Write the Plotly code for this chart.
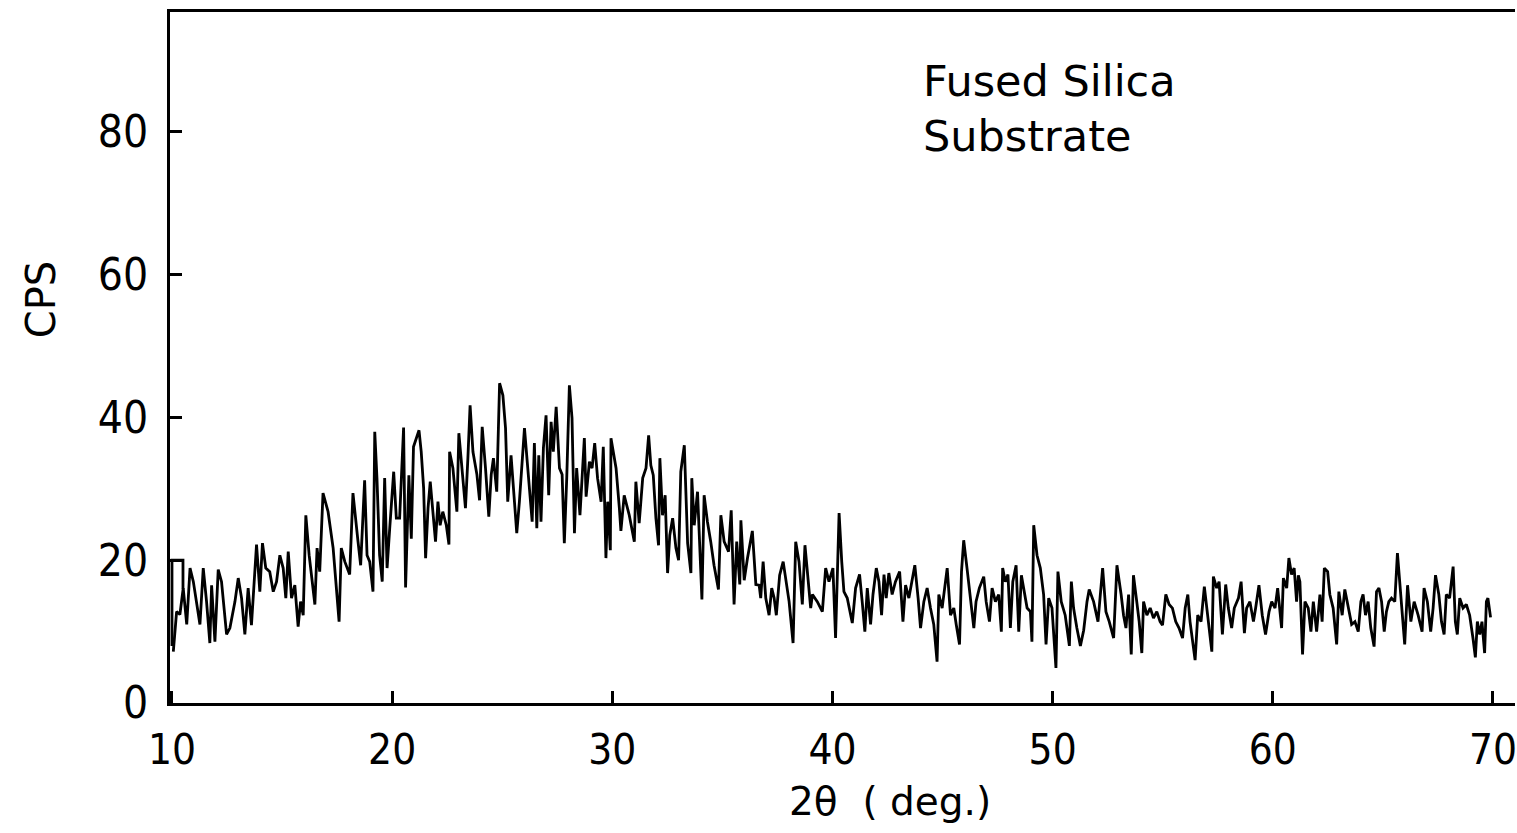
import plotly.graph_objects as go

# 2-theta (deg.) and counts per second
two_theta = [
    10.06, 10.21, 10.36, 10.51, 10.67, 10.82, 10.97, 11.12, 11.27, 11.42, 11.57, 11.72, 11.80, 11.95, 12.10, 12.25,
    12.48, 12.63, 12.86, 13.01, 13.16, 13.31, 13.46, 13.61, 13.84, 13.99, 14.11, 14.26, 14.44, 14.60, 14.75,
    14.90, 15.05, 15.17, 15.28, 15.43, 15.58, 15.73, 15.84, 15.96, 16.08, 16.23, 16.38, 16.49, 16.59, 16.71, 16.86,
    17.09, 17.32, 17.59, 17.69, 17.85, 18.07, 18.22, 18.45, 18.57, 18.75, 18.86, 18.98, 19.13, 19.21, 19.31, 19.43,
    19.55, 19.66, 19.77, 19.89, 20.07, 20.19,
    20.34, 20.52, 20.61, 20.76, 20.87, 20.97, 21.10, 21.22, 21.32, 21.43, 21.52, 21.63, 21.73, 21.85, 21.97, 22.08,
    22.18, 22.30, 22.46, 22.58, 22.61, 22.76, 22.94, 23.03, 23.18, 23.33, 23.44, 23.54, 23.67, 23.85, 23.97, 24.09,
    24.24, 24.39, 24.50, 24.60, 24.75, 24.88, 25.03, 25.15, 25.25, 25.40, 25.66,
    25.78, 26.01, 26.16, 26.36, 26.46, 26.57, 26.66, 26.76, 26.87, 26.99, 27.11, 27.22, 27.32, 27.45, 27.60, 27.72,
    27.82, 27.93, 28.05, 28.17, 28.28, 28.38, 28.53, 28.73, 28.81, 28.96, 29.08, 29.20, 29.33, 29.49, 29.59, 29.71,
    29.79, 29.91, 29.94, 30.17, 30.32, 30.39, 30.54, 30.77, 31.00, 31.07,
    31.22, 31.38, 31.53, 31.65, 31.75, 31.86, 31.98, 32.10, 32.16, 32.28, 32.40, 32.51, 32.61, 32.74, 32.89, 33.01,
    33.11, 33.27, 33.42, 33.57, 33.61, 33.72, 33.87, 34.07, 34.17, 34.32, 34.47, 34.62, 34.82, 34.93, 35.08, 35.28,
    35.40, 35.53, 35.65, 35.79, 35.84, 35.99, 36.14, 36.36, 36.52,
    36.67, 36.74, 36.85, 36.97, 37.12, 37.24, 37.35, 37.45, 37.60, 37.76, 37.88, 38.03, 38.21, 38.33, 38.48, 38.63,
    38.75, 38.90, 39.01, 39.09, 39.31, 39.54, 39.69, 39.84, 40.02, 40.14, 40.23, 40.30, 40.42, 40.52, 40.67, 40.90,
    41.05, 41.23, 41.35, 41.47, 41.58, 41.73, 41.84, 41.99,
    42.11, 42.23, 42.34, 42.44, 42.56, 42.71, 42.86, 43.05, 43.20, 43.32, 43.47, 43.62, 43.74, 43.89, 44.00, 44.15,
    44.30, 44.45, 44.60, 44.75, 44.83, 44.98, 45.13, 45.21, 45.36, 45.51, 45.62, 45.77, 45.86, 45.96, 46.11, 46.27,
    46.42, 46.52, 46.67, 46.87, 46.98, 47.13, 47.25, 47.40,
    47.55, 47.67, 47.73, 47.85, 47.97, 48.08, 48.19, 48.34, 48.46, 48.58, 48.69, 48.84, 48.99, 49.06, 49.14, 49.29,
    49.44, 49.59, 49.70, 49.82, 49.97, 50.15, 50.24, 50.39, 50.57, 50.76, 50.85, 50.95, 51.10, 51.26, 51.41, 51.56,
    51.66, 51.86, 52.06, 52.27, 52.42, 52.57, 52.77, 52.92,
    53.11, 53.22, 53.33, 53.45, 53.57, 53.67, 53.82, 53.93, 54.05, 54.13, 54.28, 54.43, 54.58, 54.73, 54.88, 54.99,
    55.14, 55.29, 55.44, 55.59, 55.74, 55.90, 56.02, 56.14, 56.24, 56.35, 56.47, 56.59, 56.74, 56.89, 57.04, 57.23,
    57.30, 57.45, 57.56, 57.71, 57.86, 57.98, 58.13, 58.25,
    58.44, 58.56, 58.71, 58.81, 58.96, 59.12, 59.22, 59.37, 59.52, 59.67, 59.83, 59.95, 60.10, 60.22, 60.40, 60.48,
    60.63, 60.73, 60.85, 60.97, 61.08, 61.16, 61.23, 61.35, 61.46, 61.61, 61.73, 61.84, 61.99, 62.14, 62.24, 62.34,
    62.49, 62.59, 62.74, 62.90, 63.00, 63.15, 63.27, 63.42, 63.58, 63.73,
    63.88, 64.00, 64.10, 64.21, 64.33, 64.45, 64.60, 64.71, 64.82, 64.94, 65.06, 65.16, 65.27, 65.39, 65.54, 65.66,
    65.77, 65.87, 65.99, 66.12, 66.27, 66.42, 66.60, 66.78, 66.87, 67.02, 67.17, 67.28, 67.39, 67.54, 67.66, 67.78,
    67.88, 68.03, 68.19, 68.29, 68.38, 68.49, 68.64, 68.79, 68.94, 69.09, 69.20, 69.29, 69.40, 69.50, 69.62, 69.70,
    69.77, 69.89,
]

cps = [
    7.2, 12.8, 12.4, 16.1, 11.0, 18.9, 17.0, 14.2, 11.0, 18.9, 14.2, 8.4, 16.5, 8.6, 18.7, 17.0,
    9.6, 10.5, 14.2, 17.5, 14.7, 9.6, 16.1, 10.9, 22.2, 15.6, 22.4, 18.9, 18.4, 15.6, 17.0,
    20.7, 18.9, 14.7, 21.2, 14.7, 16.5, 10.7, 14.2, 12.3, 26.3, 20.7, 17.0, 13.8, 21.7, 18.4, 29.4,
    26.8, 21.7, 11.4, 21.7, 19.8, 18.0, 29.4, 22.6, 19.3, 31.2, 20.7, 19.8, 15.6, 38.0, 31.5, 20.7,
    17.0, 31.5, 18.9, 24.5, 32.4, 25.9,
    25.9, 38.6, 16.2, 31.9, 23.0, 35.9, 37.1, 38.2, 35.2, 30.1, 20.3, 27.3, 31.0, 27.3, 22.6, 28.2,
    24.9, 26.8, 24.9, 22.2, 35.2, 32.9, 26.8, 37.8, 32.9, 27.3, 34.3, 41.7, 35.2, 32.0, 28.4, 38.7,
    32.9, 26.1, 32.0, 34.3, 29.6, 44.8, 43.1, 38.5, 28.2, 34.7, 23.8,
    28.2, 38.5, 32.9, 25.4, 36.4, 24.5, 34.7, 25.4, 35.7, 40.3, 29.1, 39.4, 35.2, 41.5, 32.9, 32.0,
    22.4, 31.5, 44.5, 39.9, 23.8, 32.9, 26.3, 37.1, 28.9, 33.8, 32.9, 36.4, 31.5, 28.2, 35.9, 20.3,
    28.2, 21.4, 37.1, 32.9, 27.3, 24.1, 29.1, 26.3, 22.6, 31.0,
    25.2, 31.5, 32.9, 37.5, 33.3, 31.9, 25.9, 22.1, 34.3, 26.3, 29.1, 18.2, 23.5, 25.9, 21.7, 20.0,
    32.4, 36.1, 22.4, 18.2, 31.5, 24.9, 29.6, 14.5, 29.1, 25.4, 22.6, 19.3, 15.9, 26.3, 22.6, 21.2,
    27.0, 13.8, 22.6, 16.6, 25.6, 17.2, 20.3, 24.1, 16.6,
    16.5, 14.7, 19.8, 14.7, 12.3, 16.1, 14.7, 12.3, 17.9, 19.8, 17.0, 14.2, 8.4, 22.6, 19.8, 13.8,
    22.1, 17.0, 13.3, 15.2, 14.2, 12.8, 18.9, 17.0, 18.9, 9.1, 20.7, 26.6, 19.8, 15.6, 14.7, 11.2,
    16.1, 18.0, 14.2, 10.0, 16.1, 11.0, 15.2, 18.9,
    17.0, 12.3, 18.0, 14.7, 18.2, 15.2, 17.0, 18.4, 11.4, 16.5, 14.7, 17.0, 19.3, 14.7, 10.5, 14.2,
    16.1, 13.3, 11.0, 5.8, 15.2, 13.3, 16.5, 18.9, 12.3, 13.3, 11.0, 8.2, 18.4, 22.8, 18.9, 14.2,
    10.5, 14.2, 16.1, 17.7, 14.2, 11.4, 16.1, 14.2,
    15.2, 10.0, 18.9, 17.0, 18.0, 10.5, 17.0, 19.3, 10.0, 17.9, 16.1, 13.3, 12.8, 8.6, 24.9, 20.7,
    18.9, 15.2, 8.2, 14.7, 13.3, 4.9, 18.4, 14.2, 12.3, 8.0, 17.0, 13.3, 10.5, 8.0, 10.2, 14.2,
    15.9, 14.2, 11.4, 18.9, 12.8, 11.4, 9.1, 19.3,
    15.2, 12.3, 10.5, 15.2, 6.8, 17.9, 14.2, 11.4, 7.0, 14.2, 12.3, 13.3, 11.9, 12.8, 11.4, 10.9,
    15.2, 13.8, 13.3, 11.4, 10.5, 9.1, 13.3, 15.2, 11.4, 8.6, 6.0, 12.3, 11.4, 16.3, 12.3, 7.2,
    17.7, 16.1, 17.0, 9.6, 16.6, 13.3, 10.5, 13.3,
    14.7, 17.0, 9.8, 13.3, 14.2, 11.4, 13.3, 16.5, 12.3, 9.6, 12.8, 14.2, 13.3, 16.1, 10.5, 17.5,
    16.1, 20.3, 18.0, 18.9, 14.2, 17.9, 17.0, 6.8, 14.2, 13.3, 10.0, 14.2, 10.0, 15.2, 11.4, 18.9,
    18.4, 15.2, 13.3, 8.2, 15.6, 12.3, 15.9, 13.3, 11.0, 11.4,
    10.0, 14.2, 15.2, 12.3, 14.2, 10.5, 7.9, 15.6, 16.1, 14.2, 10.0, 12.8, 14.2, 14.7, 14.2, 21.0,
    17.0, 12.3, 8.2, 16.5, 11.4, 14.2, 12.3, 10.0, 16.1, 14.2, 10.0, 13.3, 17.9, 15.2, 11.4, 9.6,
    15.2, 14.7, 19.1, 11.4, 9.6, 14.7, 13.3, 13.8, 12.3, 9.1, 6.4, 11.4, 9.6, 11.4, 7.0, 14.2,
    14.7, 12.0,
]

# pen start step drawn at the left edge
start_theta = [10.0, 10.0, 10.5, 10.5]
start_cps = [8, 20, 20, 16]

x_ticks = [10, 20, 30, 40, 50, 60, 70]
y_ticks = [0, 20, 40, 60, 80]

title_lines = ["Fused Silica", "Substrate"]

TICK_FONT = "DejaVu Sans Condensed, Liberation Sans Narrow, DejaVu Sans, sans-serif"
TEXT_FONT = "DejaVu Sans, sans-serif"

fig = go.Figure()
fig.add_trace(go.Scatter(x=start_theta, y=start_cps, mode="lines",
                         line=dict(color="black", width=2.8), showlegend=False, hoverinfo="skip"))
fig.add_trace(go.Scatter(x=two_theta, y=cps, mode="lines",
                         line=dict(color="black", width=2.8), showlegend=False))

fig.update_layout(
    width=1517, height=833,
    margin=dict(l=170, r=0, t=12, b=130),
    paper_bgcolor="white", plot_bgcolor="white",
    font=dict(family=TEXT_FONT, color="black", size=42),
    showlegend=False,
)
fig.update_xaxes(
    range=[9.91, 71.0], tickvals=x_ticks, ticktext=[str(t) for t in x_ticks],
    showline=True, linecolor="black", linewidth=3, mirror=True,
    ticks="inside", ticklen=12, tickwidth=2.5, tickcolor="black",
    showgrid=False, zeroline=False,
    tickfont=dict(family=TICK_FONT, size=42, color="black"), ticklabelstandoff=8,
    ticklabeloverflow="allow",
)
fig.update_yaxes(
    range=[0, 96.8], tickvals=y_ticks, ticktext=[str(t) for t in y_ticks],
    showline=True, linecolor="black", linewidth=3, mirror=False,
    ticks="inside", ticklen=12, tickwidth=2.5, tickcolor="black",
    showgrid=False, zeroline=False,
    tickfont=dict(family=TICK_FONT, size=44, color="black"), ticklabelstandoff=10,
)

fig.add_annotation(text="CPS", xref="paper", yref="paper", x=-0.0958, y=0.583,
                   xanchor="center", yanchor="middle",
                   textangle=-90, showarrow=False, font=dict(family=TEXT_FONT, size=40, color="black"))
fig.add_annotation(text="2θ  ( deg.)", xref="paper", yref="paper", x=0.535, y=-0.143,
                   xanchor="center", yanchor="middle",
                   showarrow=False, font=dict(family=TEXT_FONT, size=39, color="black"))
fig.add_annotation(text=title_lines[0], xref="paper", yref="paper", x=0.558, y=0.900,
                   xanchor="left", yanchor="middle", showarrow=False,
                   font=dict(family=TEXT_FONT, size=43, color="black"))
fig.add_annotation(text=title_lines[1], xref="paper", yref="paper", x=0.558, y=0.8205,
                   xanchor="left", yanchor="middle", showarrow=False,
                   font=dict(family=TEXT_FONT, size=43, color="black"))

fig.write_html("out.html")
